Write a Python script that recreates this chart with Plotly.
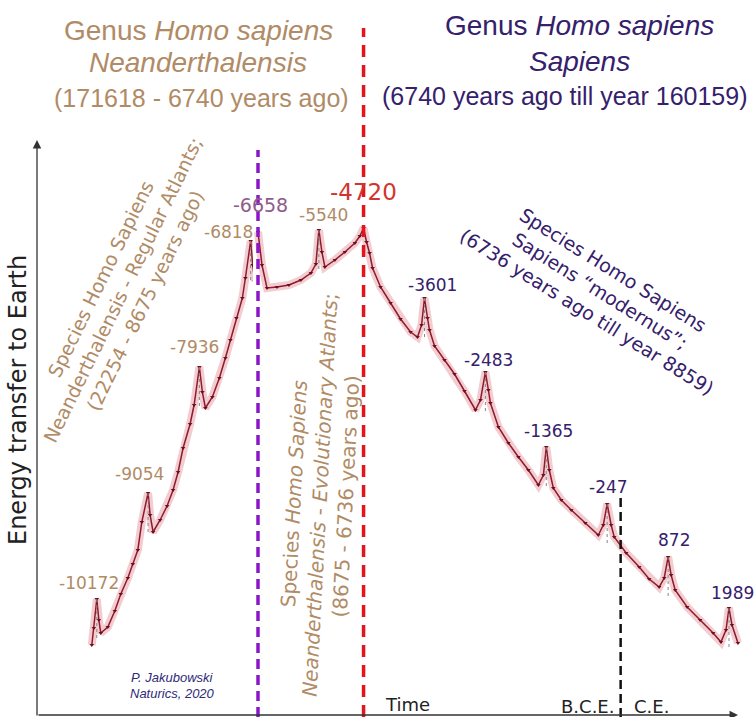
import plotly.graph_objects as go

# ---------------- data (years, arbitrary energy units) ----------------
# Neanderthal part of the curve (drawn on the left time axis)
years_neanderthal = [-10281, -10237, -10172, -10128, -10085, -9932, -9780, -9649, -9496, -9387,
                     -9278, -9191, -9054, -9010, -8945, -8792, -8640, -8509, -8400, -8291,
                     -8138, -8051, -7936, -7871, -7805, -7653, -7500, -7369, -7260, -7129,
                     -6999, -6933, -6818, -6774, -6730, -6687, -6658]
energy_neanderthal = [72, 89, 118, 97, 84, 90, 106, 123, 139, 153,
                      167, 195, 224, 202, 185, 197, 211, 227, 245, 269,
                      293, 312, 350, 325, 309, 320, 339, 359, 377, 399,
                      419, 439, 476, 452, 436, 455, 485]

# Sapiens part of the curve (drawn on the right time axis)
years_sapiens = [-6658, -6585, -6493, -6309, -6090, -5870, -5687, -5595, -5540, -5485,
                 -5430, -5246, -5063, -4879, -4787, -4720, -4665, -4610, -4555, -4408,
                 -4224, -4041, -3857, -3729, -3655, -3601, -3546, -3509, -3417, -3234,
                 -3050, -2867, -2665, -2573, -2483, -2428, -2391, -2244, -2061, -1877,
                 -1694, -1510, -1418, -1365, -1310, -1236, -1090, -906, -649, -410,
                 -318, -247, -174, -118, 102, 341, 524, 708, 800, 872,
                 927, 1001, 1221, 1460, 1698, 1842, 1934, 1989, 2044, 2154]
energy_sapiens = [485, 452, 429, 430, 432, 437, 444, 453, 487, 465,
                  450, 457, 465, 474, 481, 489, 475, 464, 449, 430,
                  414, 398, 385, 380, 392, 419, 399, 387, 371, 357,
                  343, 326, 307, 317, 345, 327, 314, 290, 274, 260,
                  247, 232, 242, 270, 247, 229, 217, 207, 194, 182,
                  192, 213, 192, 180, 164, 150, 138, 130, 139, 160,
                  142, 127, 110, 97, 84, 75, 87, 109, 92, 74]

peak_years = [-10172, -9054, -7936, -6818, -6658, -5540, -4720, -3601, -2483, -1365, -247, 872, 1989]
peak_labels = [str(y) for y in peak_years]
dropline_peaks = [-10172, -9054, -7936, -6818, -5540, -3601, -2483, -1365, -247, 872, 1989]

regular_atlants_start = -6658     # 8675 years ago
sapiens_start = -4720             # 6740 years ago
era_boundary = 0                  # B.C.E. / C.E.

# ---------------- styles ----------------
TAN = "#b08b66"
INDIGO = "#35206b"
PURPLE = "#8b17c9"
RED = "#e3141b"
CG = "DejaVu Sans"
AR = "Liberation Sans"
W, H = 756, 717
SPLIT = 258           # pixel where the two time scales meet
LEFT_SCALE = 21.8     # years per pixel, left part
RIGHT_SCALE = 18.36   # years per pixel, right part
PAD = 5               # extra pixels of the right axis to the left of the split

label_style = {  # colour, size, xshift, yshift
    -10172: (TAN, 17, -8, 16), -9054: (TAN, 17, -9, 19), -7936: (TAN, 17, -5, 20),
    -6818: (TAN, 17, -22, 9), -6658: ("#8e5b8a", 19, 2, 27), -5540: (TAN, 17, 5, 15),
    -4720: ("#d2352d", 23, 0, 36), -3601: (INDIGO, 17, 8, 13), -2483: (INDIGO, 17, 3, 12),
    -1365: (INDIGO, 17, 2, 16), -247: (INDIGO, 17, 1, 17), 872: (INDIGO, 17, 6, 17),
    1989: (INDIGO, 17, 4, 15),
}
DROP = 42

energy_at = dict(zip(years_neanderthal, energy_neanderthal))
energy_at.update(dict(zip(years_sapiens, energy_sapiens)))

fig = go.Figure()

for xa, ya, xs, ys in [("x", "y", years_neanderthal, energy_neanderthal),
                       ("x2", "y2", years_sapiens, energy_sapiens)]:
    fig.add_trace(go.Scatter(x=xs, y=ys, xaxis=xa, yaxis=ya, mode="lines",
                             line=dict(color="rgba(215,100,115,0.33)", width=8),
                             hoverinfo="skip", showlegend=False))
    fig.add_trace(go.Scatter(x=xs, y=ys, xaxis=xa, yaxis=ya, mode="lines+markers",
                             line=dict(color="#8e1b2b", width=1.5),
                             marker=dict(symbol="triangle-down", size=4, color="#6e0f1c"),
                             showlegend=False))

# droplines under the peaks
for xa, ya, is_left in [("x", "y", True), ("x2", "y2", False)]:
    dx, dy = [], []
    for yr in dropline_peaks:
        if (yr <= regular_atlants_start) == is_left:
            e = energy_at[yr]
            dx += [yr, yr, None]
            dy += [e, e - DROP, None]
    fig.add_trace(go.Scatter(x=dx, y=dy, xaxis=xa, yaxis=ya, mode="lines",
                             line=dict(color="#888888", width=1, dash="dot"),
                             hoverinfo="skip", showlegend=False))

# peak labels
for yr, txt in zip(peak_years, peak_labels):
    c, s, xs_, ys_ = label_style[yr]
    left = yr <= regular_atlants_start
    fig.add_annotation(x=yr, y=energy_at[yr], xref="x" if left else "x2",
                       yref="y" if left else "y2", text=txt, showarrow=False,
                       xshift=xs_, yshift=ys_, font=dict(family=CG, size=s, color=c))

# vertical dashed markers
fig.add_shape(type="line", xref="x2", yref="y2", x0=regular_atlants_start, x1=regular_atlants_start,
              y0=0, y1=567, line=dict(color=PURPLE, width=3.5, dash="10px,6px"))
fig.add_shape(type="line", xref="x2", yref="y2", x0=sapiens_start, x1=sapiens_start,
              y0=0, y1=689, line=dict(color=RED, width=3.5, dash="12px,8px"))
fig.add_shape(type="line", xref="x2", yref="y2", x0=era_boundary, x1=era_boundary,
              y0=0, y1=220, line=dict(color="#111111", width=2.5, dash="9px,5px"))


def P(x, y):
    return x / W, 1 - y / H


def text(x, y, t, size, color, family=CG, angle=0, align="center"):
    px, py = P(x, y)
    fig.add_annotation(x=px, y=py, xref="paper", yref="paper", text=t, showarrow=False,
                       textangle=angle, align=align, xanchor="center", yanchor="middle",
                       font=dict(family=family, size=size, color=color))


# axes arrows
hx, hy = P(37, 140)
fig.add_annotation(x=hx, y=hy, xref="paper", yref="paper", ax=0, ay=577, text="",
                   showarrow=True, arrowhead=2, arrowsize=1.3, arrowwidth=1.3, arrowcolor="#333")
hx, hy = P(738, 715)
fig.add_annotation(x=hx, y=hy, xref="paper", yref="paper", ax=-701, ay=0, text="",
                   showarrow=True, arrowhead=2, arrowsize=1.3, arrowwidth=1.3, arrowcolor="#333")

# titles
text(198, 30, "Genus <i>Homo sapiens</i>", 28, TAN, AR)
text(198, 63, "<i>Neanderthalensis</i>", 28, TAN, AR)
text(201, 98, "(171618 - 6740 years ago)", 25, TAN, AR)
text(579, 26, "Genus <i>Homo sapiens</i>", 28, INDIGO, AR)
text(579, 61, "<i>Sapiens</i>", 28, INDIGO, AR)
text(565, 96, "(6740 years ago till year 160159)", 25, INDIGO, AR)

# rotated descriptions
text(122, 290, "Species Homo Sapiens<br>Neanderthalensis - Regular Atlants;<br>(22254 - 8675 years ago)",
     19, TAN, angle=-64)
text(320, 495, "Species <i>Homo Sapiens</i><br><i>Neanderthalensis - Evolutionary Atlants</i>;<br>(8675 - 6736 years ago)",
     20, TAN, angle=-87)
text(600, 290, "Species Homo Sapiens<br>Sapiens \u201cmodernus\u201d;<br>(6736 years ago till year 8859)",
     19, INDIGO, angle=32)

# axis texts
text(18, 400, "Energy transfer to Earth", 24, "#222222", angle=-90)
text(407, 704, "Time", 18, "#222222")
text(587, 706, "B.C.E.", 18, "#222222")
text(651, 706, "C.E.", 18, "#222222")
text(172, 677, "<i>P. Jakubowski</i>", 13, "#2e2a78", AR)
text(172, 693, "<i>Naturics, 2020</i>", 13, "#2e2a78", AR)

ax_common = dict(visible=False, showgrid=False, zeroline=False, fixedrange=True)
fig.update_layout(
    width=W, height=H, margin=dict(l=0, r=0, t=0, b=0),
    paper_bgcolor="white", plot_bgcolor="white", showlegend=False,
    xaxis=dict(**ax_common, domain=[0, SPLIT / W],
               range=[regular_atlants_start - SPLIT * LEFT_SCALE, regular_atlants_start]),
    xaxis2=dict(**ax_common, domain=[(SPLIT - PAD) / W, 1],
                range=[regular_atlants_start - PAD * RIGHT_SCALE,
                       regular_atlants_start + (W - SPLIT) * RIGHT_SCALE]),
    yaxis=dict(**ax_common, range=[0, H], anchor="x"),
    yaxis2=dict(**ax_common, range=[0, H], anchor="x2", matches="y"),
)

fig.write_html("out.html", config={"displayModeBar": False},
               post_script="document.body.style.margin='0';")
